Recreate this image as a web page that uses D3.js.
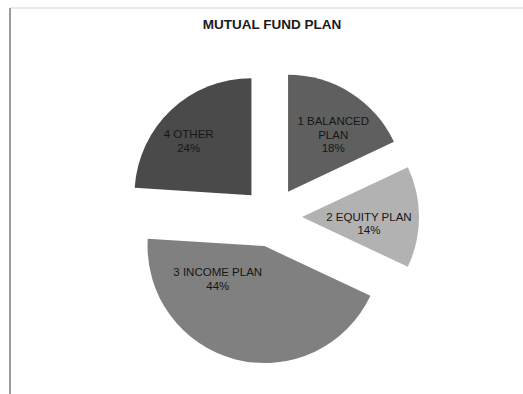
<!DOCTYPE html>
<html>
<head>
<meta charset="utf-8">
<script src="https://cdn.jsdelivr.net/npm/d3@7"></script>
<style>
  html, body { margin: 0; padding: 0; background: #ffffff; }
  svg { display: block; font-family: "Liberation Sans", Arial, sans-serif; }
</style>
</head>
<body>
<svg id="chart" width="523" height="394"></svg>
<script>
// Mutual fund plan shares, clockwise from 12 o'clock
const plans = ["1 BALANCED PLAN", "2 EQUITY PLAN", "3 INCOME PLAN", "4 OTHER"];
const shares = [18, 14, 44, 24];
const sliceColors = ["#5f5f5f", "#b2b2b2", "#808080", "#4a4a4a"];
// label lines per slice (category name wrapped as shown, then the percentage)
const labelLines = [["1 BALANCED", "PLAN"], ["2 EQUITY PLAN"], ["3 INCOME PLAN"], ["4 OTHER"]];
const chartTitle = "MUTUAL FUND PLAN";

const svg = d3.select("#chart");
const cx = 272, cy = 217, radius = 117, explode = 30;

// frame lines of the chart area
svg.append("line").attr("x1", 10).attr("y1", 8).attr("x2", 523).attr("y2", 8)
  .attr("stroke", "#e2e2e2").attr("stroke-width", 1.5);
svg.append("line").attr("x1", 10).attr("y1", 8).attr("x2", 10).attr("y2", 394)
  .attr("stroke", "#9a9a9a").attr("stroke-width", 2);

svg.append("text")
  .attr("x", cx).attr("y", 29)
  .attr("text-anchor", "middle")
  .attr("font-size", 13.5).attr("font-weight", "bold")
  .attr("fill", "#1a1a1a")
  .text(chartTitle);

const data = plans.map((p, i) => ({ plan: p, share: shares[i], color: sliceColors[i], lines: labelLines[i] }));

const pie = d3.pie().value(d => d.share).sort(null).startAngle(0).endAngle(2 * Math.PI);
const arc = d3.arc().innerRadius(0).outerRadius(radius);

const g = svg.append("g").attr("transform", `translate(${cx},${cy})`);

const slices = g.selectAll("g.slice")
  .data(pie(data))
  .join("g")
  .attr("class", "slice")
  .attr("transform", d => {
    const mid = (d.startAngle + d.endAngle) / 2;
    return `translate(${explode * Math.sin(mid)},${-explode * Math.cos(mid)})`;
  });

slices.append("path")
  .attr("d", arc)
  .attr("fill", d => d.data.color);

// label anchors relative to each slice's apex: [fraction of radius, angle in degrees clockwise from 12 o'clock]
const labelRadius = d3.scaleLinear().domain([0, 1]).range([0, radius]);
const labelPos = [[0.62, 38.5], [0.575, 95.5], [0.49, 234.7], [0.71, 310.9]];

slices.each(function (d, i) {
  const a = labelPos[i][1] * Math.PI / 180;
  const r = labelRadius(labelPos[i][0]);
  const lx = r * Math.sin(a);
  const ly = -r * Math.cos(a);
  const lines = d.data.lines.concat([d.data.share + "%"]);
  const lh = 13.5;
  const t = d3.select(this).append("text")
    .attr("text-anchor", "middle")
    .attr("font-size", 11.5)
    .attr("fill", "#161616");
  lines.forEach((ln, k) => {
    t.append("tspan")
      .attr("x", lx)
      .attr("y", ly + (k - (lines.length - 1) / 2) * lh + 4)
      .text(ln);
  });
});
</script>
</body>
</html>
